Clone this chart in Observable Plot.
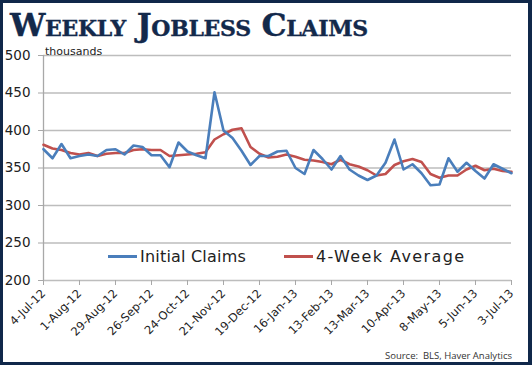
<!DOCTYPE html>
<html><head><meta charset="utf-8">
<script src="https://cdn.jsdelivr.net/npm/d3@7"></script>
<script src="https://cdn.jsdelivr.net/npm/@observablehq/plot@0.6"></script>
<style>
body{margin:0;background:#fff}
#wrap{position:relative;width:532px;height:365px;overflow:hidden;background:#fff}
#frame{position:absolute;left:0;top:0;width:532px;height:365px;box-sizing:border-box;border:3px solid #10284a;border-right-width:4px;pointer-events:none}
#title{position:absolute;left:10px;top:6px;font-family:"DejaVu Serif";font-weight:bold;font-size:31.5px;font-variant:small-caps;color:#13294b;white-space:nowrap;letter-spacing:-0.3px;-webkit-text-stroke:0.4px #13294b}
#units{position:absolute;left:45px;top:45px;font:11px "DejaVu Sans";color:#222}
#legend{position:absolute;left:108px;top:247px;font:16px "DejaVu Sans";color:#222;white-space:nowrap}
#legend .sw{display:inline-block;width:29px;height:2.5px;vertical-align:middle;margin-right:3px;position:relative;top:-1px}
#legend .b{letter-spacing:0.2px}
#legend .r{letter-spacing:1.4px}
#source{position:absolute;right:20px;top:349px;font:9.5px "Open Sans";color:#333;white-space:nowrap}
#chart{position:absolute;left:0;top:0}
</style>
</head><body>
<div id="wrap">
<div id="chart"></div>
<div id="title">Weekly Jobless Claims</div>
<div id="units">thousands</div>
<div id="legend"><span class="sw" style="background:#4a7ebb"></span><span class="b">Initial Claims</span><span style="display:inline-block;width:38px"></span><span class="sw" style="background:#c0504d"></span><span class="r">4-Week Average</span></div>
<div id="source">Source:&nbsp; BLS, Haver Analytics</div>
<div id="frame"></div>
</div>
<script>
const startDate = "2012-07-04";
const initialClaims = [375,363,382,363,366,368,366,374,375,368,380,378,367,367,351,384,372,367,363,451,400,390,373,354,366,366,372,373,350,342,374,362,348,366,348,340,334,340,357,388,348,355,343,327,328,363,345,357,346,336,355,349,343];
const fourWeekAvg = [381,376,374,370,368,370,366,369,370,370,374,375,374,374,366,367,368,369,371,388,395,401,403,378,369,364,365,368,365,361,360,358,355,361,355,352,347,340,342,354,359,362,358,342,337,340,340,348,353,347,349,346,345];
const tickLabels = ["4-Jul-12","1-Aug-12","29-Aug-12","26-Sep-12","24-Oct-12","21-Nov-12","19-Dec-12","16-Jan-13","13-Feb-13","13-Mar-13","10-Apr-13","8-May-13","5-Jun-13","3-Jul-13"];
const yTicks = [200,250,300,350,400,450,500];

const t0 = new Date(startDate + "T00:00:00Z");
const weekDate = i => new Date(t0.getTime() + i * 7 * 864e5);
const rows = [];
initialClaims.forEach((v, i) => rows.push({date: weekDate(i), value: v, series: "Initial Claims"}));
fourWeekAvg.forEach((v, i) => rows.push({date: weekDate(i), value: v, series: "4-Week Average"}));
const tickDates = tickLabels.map((_, k) => weekDate(k * 4));
const labelFor = d => tickLabels[Math.round((d - t0) / (28 * 864e5))];

const chart = Plot.plot({
  width: 532, height: 365,
  marginTop: 55, marginBottom: 85, marginLeft: 43, marginRight: 21,
  style: {fontFamily: "DejaVu Sans", fontSize: "13.5px", color: "#222", background: "transparent"},
  x: {type: "utc", domain: [weekDate(0), weekDate(initialClaims.length - 1)]},
  y: {domain: [200, 500]},
  marks: [
    Plot.ruleY(yTicks, {stroke: "#bdbdbd", strokeWidth: 1.3}),
    Plot.ruleX([weekDate(0)], {y1: 200, y2: 500, stroke: "#a8a8a8", strokeWidth: 1.3}),
    Plot.axisY({ticks: yTicks, tickSize: 5, tickPadding: 8, label: null, stroke: "#a8a8a8", fill: "#222", fontSize: 13.5}),
    Plot.axisX({ticks: tickDates, tickFormat: labelFor, tickRotate: -45, tickSize: 5, tickPadding: 6, label: null, stroke: "#a8a8a8", fill: "#222", fontSize: 11.5}),
    Plot.line(rows.filter(d => d.series === "4-Week Average"), {x: "date", y: "value", stroke: "#c0504d", strokeWidth: 2.6}),
    Plot.line(rows.filter(d => d.series === "Initial Claims"), {x: "date", y: "value", stroke: "#4a7ebb", strokeWidth: 2.6})
  ]
});
document.getElementById("chart").appendChild(chart);
</script>
</body></html>
